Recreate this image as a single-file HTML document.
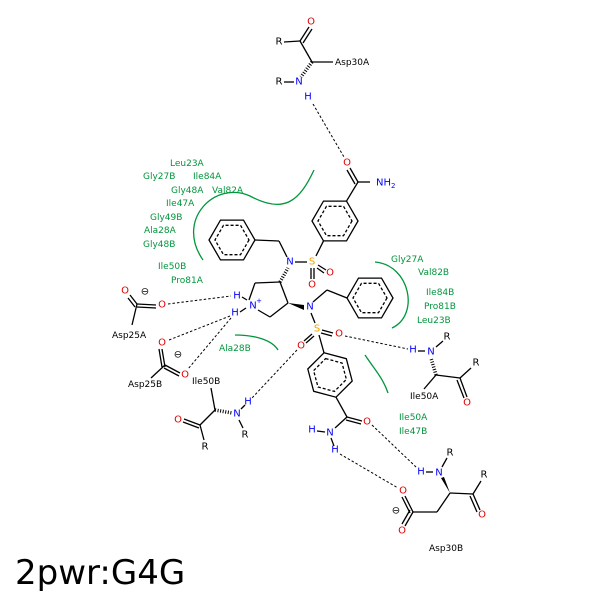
<!DOCTYPE html>
<html><head><meta charset="utf-8"><style>
html,body{margin:0;padding:0;background:#fff}
svg{display:block}
text{font-family:"DejaVu Sans","Liberation Sans",sans-serif}
.a{font-size:10px;text-anchor:middle;dominant-baseline:central}
.g{font-size:9px;fill:#00963c}
.l{font-size:9px;fill:#000}
</style></head><body>
<svg width="600" height="600" viewBox="0 0 600 600" xmlns="http://www.w3.org/2000/svg">
<g stroke="#000" stroke-width="1.3" fill="none">
<line x1="284" y1="42" x2="300" y2="41"/>
<line x1="300" y1="41" x2="309" y2="27"/><line x1="303" y1="43" x2="312" y2="29"/>
<line x1="300" y1="41" x2="312" y2="62"/>
<line x1="312" y1="62" x2="333" y2="62"/>
<line x1="284" y1="82" x2="294" y2="82"/>
<line x1="312" y1="62" x2="301" y2="77" stroke-width="3.5" stroke-dasharray="1 1.6"/>
<line x1="358" y1="182" x2="350" y2="168"/><line x1="355" y1="184" x2="347" y2="170"/>
<line x1="358" y1="182" x2="370" y2="182"/>
<line x1="358" y1="182" x2="346.5" y2="201.1"/>
<polygon points="358,221 346.5,240.9 323.5,240.9 312,221 323.5,201.1 346.5,201.1"/>
<polygon points="352,221 343.5,235.7 326.5,235.7 318,221 326.5,206.3 343.5,206.3" stroke-dasharray="3 2"/>
<line x1="323.5" y1="240.9" x2="316" y2="256"/>
<line x1="295" y1="262" x2="307" y2="262"/>
<line x1="318" y1="265" x2="326" y2="270"/><line x1="317" y1="268" x2="324" y2="273"/>
<line x1="311" y1="268" x2="311" y2="279"/><line x1="314" y1="268" x2="314" y2="279"/>
<line x1="287" y1="257" x2="279" y2="241"/>
<line x1="279" y1="241" x2="255" y2="240"/>
<polygon points="255,240 243.5,259.9 220.5,259.9 209,240 220.5,220.1 243.5,220.1"/>
<polygon points="249,240 240.5,254.7 223.5,254.7 215,240 223.5,225.3 240.5,225.3" stroke-dasharray="3 2"/>
<line x1="280" y1="282" x2="255" y2="283"/>
<line x1="255" y1="283" x2="249" y2="300"/>
<line x1="258" y1="310" x2="270" y2="317"/>
<line x1="270" y1="317" x2="288" y2="303"/>
<line x1="288" y1="303" x2="280" y2="282"/>
<line x1="280" y1="282" x2="288" y2="268" stroke-width="3.5" stroke-dasharray="1 1.6"/>
<line x1="313" y1="302" x2="327" y2="290"/>
<line x1="327" y1="290" x2="347" y2="298"/>
<polygon points="393,298 381.5,317.9 358.5,317.9 347,298 358.5,278.1 381.5,278.1"/>
<polygon points="387,298 378.5,312.7 361.5,312.7 353,298 361.5,283.3 378.5,283.3" stroke-dasharray="3 2"/>
<line x1="311" y1="313" x2="315" y2="323"/>
<line x1="322" y1="330" x2="333" y2="333"/><line x1="321" y1="333" x2="332" y2="336"/>
<line x1="312" y1="334" x2="304" y2="341"/><line x1="314" y1="336" x2="306" y2="343"/>
<line x1="319" y1="335" x2="324" y2="352.8"/>
<polygon points="324,352.8 346.3,358.7 352.2,381 336,397.2 313.7,391.3 307.8,369"/>
<polygon points="325.6,358.6 342,363 346.4,379.4 334.4,391.4 318,387 313.6,370.6" stroke-dasharray="3 2"/>
<line x1="336" y1="397.2" x2="347" y2="417"/>
<line x1="347" y1="417" x2="362" y2="421"/><line x1="346" y1="420" x2="361" y2="424"/>
<line x1="347" y1="417" x2="335" y2="428"/>
<line x1="317" y1="431" x2="325" y2="432"/>
<line x1="331" y1="438" x2="334" y2="446"/>
<line x1="426" y1="472" x2="433" y2="472"/>
<line x1="442" y1="467" x2="447" y2="458"/>
<line x1="450" y1="493" x2="473" y2="494"/>
<line x1="473" y1="494" x2="481" y2="481"/>
<line x1="473" y1="494" x2="480" y2="510"/><line x1="470" y1="496" x2="477" y2="512"/>
<line x1="450" y1="493" x2="437" y2="512"/>
<line x1="437" y1="512" x2="413" y2="512"/>
<line x1="413" y1="512" x2="405" y2="496"/><line x1="410" y1="513" x2="402" y2="497"/>
<line x1="413" y1="512" x2="405" y2="526"/><line x1="410" y1="510" x2="402" y2="524"/>
<line x1="418" y1="351" x2="425" y2="351"/>
<line x1="436" y1="347" x2="443" y2="341"/>
<line x1="436" y1="375" x2="460" y2="378"/>
<line x1="436" y1="375" x2="431" y2="358" stroke-width="3.5" stroke-dasharray="1 1.6"/>
<line x1="436" y1="375" x2="424" y2="389"/>
<line x1="460" y1="378" x2="471" y2="368"/>
<line x1="460" y1="378" x2="467" y2="397"/><line x1="457" y1="380" x2="464" y2="398"/>
<line x1="130" y1="295" x2="137" y2="304"/><line x1="128" y1="298" x2="135" y2="307"/>
<line x1="137" y1="304" x2="156" y2="305"/><line x1="137" y1="307" x2="156" y2="308"/>
<line x1="137" y1="304" x2="132" y2="325"/>
<line x1="165" y1="367" x2="162" y2="349"/><line x1="162" y1="367" x2="159" y2="349"/>
<line x1="165" y1="365" x2="180" y2="373"/><line x1="164" y1="368" x2="179" y2="376"/>
<line x1="165" y1="365" x2="151" y2="378"/>
<line x1="211" y1="388" x2="215" y2="410"/>
<line x1="215" y1="410" x2="232" y2="413" stroke-width="3.5" stroke-dasharray="1 1.6"/>
<line x1="215" y1="410" x2="200" y2="425"/>
<line x1="200" y1="425" x2="184" y2="419"/><line x1="199" y1="428" x2="183" y2="422"/>
<line x1="200" y1="425" x2="204" y2="440"/>
<line x1="239" y1="420" x2="243" y2="428"/>
<line x1="241" y1="409" x2="245" y2="405"/>
<line x1="242" y1="297" x2="247" y2="300"/>
<line x1="240" y1="312" x2="246" y2="308"/>
</g>
<polygon points="288,303 304,305 304,310" fill="#000"/>
<polygon points="450,493 441,478 444,477" fill="#000"/>
<g stroke="#000" stroke-width="1" stroke-dasharray="2.5 2" fill="none">
<line x1="313" y1="104" x2="344" y2="157"/>
<line x1="168" y1="304" x2="231" y2="296"/>
<line x1="230" y1="316" x2="169" y2="340"/>
<line x1="231" y1="318" x2="188" y2="369"/>
<line x1="297" y1="350" x2="252" y2="398"/>
<line x1="345" y1="336" x2="408" y2="349"/>
<line x1="372" y1="425" x2="416" y2="467"/>
<line x1="340" y1="454" x2="398" y2="488"/>
</g>
<g stroke="#00963c" stroke-width="1.3" fill="none">
<path d="M314,170 C300,200 285,215 250,196 C215,180 175,220 203,260"/>
<path d="M375,262 C410,265 420,315 392,328"/>
<path d="M235,335 C255,335 272,340 278,350"/>
<path d="M365,355 C375,370 383,378 388,393"/>
</g>
<g class="a">
<text x="311" y="22" fill="#e00000">O</text>
<text x="279" y="42">R</text>
<text x="299" y="82" fill="#0000ff">N</text>
<text x="279" y="82">R</text>
<text x="308" y="97" fill="#0000ff">H</text>
<text x="347" y="163" fill="#e00000">O</text>
<text x="376" y="183" fill="#0000ff" text-anchor="start">NH<tspan font-size="7" dy="3">2</tspan></text>
<text x="290" y="262" fill="#0000ff">N</text>
<text x="312" y="262" fill="#f0a000">S</text>
<text x="330" y="273" fill="#e00000">O</text>
<text x="312" y="285" fill="#e00000">O</text>
<text x="253" y="306" fill="#0000ff">N</text>
<text x="259" y="301" fill="#0000ff" font-size="7">+</text>
<text x="237" y="296" fill="#0000ff">H</text>
<text x="235" y="313" fill="#0000ff">H</text>
<text x="310" y="307" fill="#0000ff">N</text>
<text x="317" y="329" fill="#f0a000">S</text>
<text x="339" y="334" fill="#e00000">O</text>
<text x="301" y="346" fill="#e00000">O</text>
<text x="367" y="422" fill="#e00000">O</text>
<text x="330" y="433" fill="#0000ff">N</text>
<text x="312" y="430" fill="#0000ff">H</text>
<text x="335" y="450" fill="#0000ff">H</text>
<text x="421" y="472" fill="#0000ff">H</text>
<text x="439" y="473" fill="#0000ff">N</text>
<text x="450" y="453">R</text>
<text x="484" y="475">R</text>
<text x="482" y="515" fill="#e00000">O</text>
<text x="403" y="491" fill="#e00000">O</text>
<text x="402" y="531" fill="#e00000">O</text>
<text x="396" y="511">⊖</text>
<text x="413" y="350" fill="#0000ff">H</text>
<text x="431" y="352" fill="#0000ff">N</text>
<text x="447" y="337">R</text>
<text x="476" y="363">R</text>
<text x="467" y="403" fill="#e00000">O</text>
<text x="125" y="291" fill="#e00000">O</text>
<text x="162" y="305" fill="#e00000">O</text>
<text x="145" y="292">⊖</text>
<text x="162" y="343" fill="#e00000">O</text>
<text x="185" y="375" fill="#e00000">O</text>
<text x="178" y="355">⊖</text>
<text x="248" y="402" fill="#0000ff">H</text>
<text x="237" y="414" fill="#0000ff">N</text>
<text x="245" y="435">R</text>
<text x="178" y="420" fill="#e00000">O</text>
<text x="205" y="447">R</text>
</g>
<g class="l">
<text x="335" y="65">Asp30A</text>
<text x="112" y="338">Asp25A</text>
<text x="128" y="387">Asp25B</text>
<text x="192" y="384">Ile50B</text>
<text x="410" y="399">Ile50A</text>
<text x="429" y="551">Asp30B</text>
</g>
<g class="g">
<text x="170" y="166">Leu23A</text>
<text x="143" y="179">Gly27B</text>
<text x="193" y="179">Ile84A</text>
<text x="171" y="193">Gly48A</text>
<text x="212" y="193">Val82A</text>
<text x="166" y="206">Ile47A</text>
<text x="150" y="220">Gly49B</text>
<text x="144" y="233">Ala28A</text>
<text x="143" y="247">Gly48B</text>
<text x="158" y="269">Ile50B</text>
<text x="171" y="283">Pro81A</text>
<text x="219" y="351">Ala28B</text>
<text x="391" y="262">Gly27A</text>
<text x="418" y="275">Val82B</text>
<text x="426" y="295">Ile84B</text>
<text x="424" y="309">Pro81B</text>
<text x="417" y="323">Leu23B</text>
<text x="399" y="420">Ile50A</text>
<text x="399" y="434">Ile47B</text>
</g>
<text x="15" y="584" font-size="34" fill="#000">2pwr:G4G</text>
</svg>
</body></html>
